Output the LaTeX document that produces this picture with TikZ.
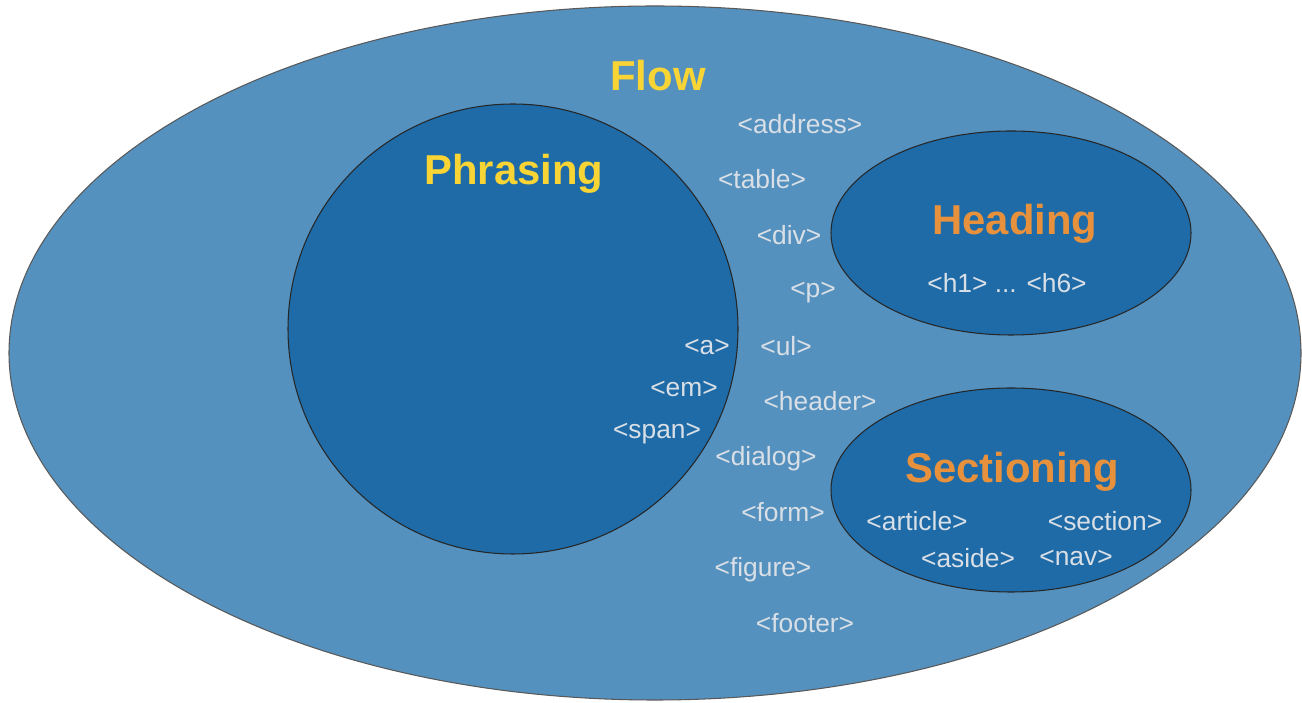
\documentclass[tikz,border=0pt]{standalone}
\usepackage{fontspec}
\setmainfont{Liberation Sans}
\usepackage{tikz}
\usepackage{xcolor}
\usetikzlibrary{shapes.geometric}
\definecolor{flowblue}{HTML}{5591BE}
\definecolor{innerblue}{HTML}{1E6BA7}
\definecolor{tagtext}{HTML}{D9DFE6}
\definecolor{flowyellow}{HTML}{F9D435}
\definecolor{catorange}{HTML}{E8913D}
\tikzset{tag/.style={text=tagtext,font=\fontsize{15}{18}\selectfont,inner sep=0pt},
	title/.style={font=\fontsize{23.8}{28}\selectfont\bfseries,inner sep=0pt},
	area/.style={draw=black!85,fill=innerblue,line width=0.6pt}}

\begin{document}
\begin{tikzpicture}
		\useasboundingbox (0,0) rectangle (26.04,14.06);
		\begin{scope}
			\clip (0,0) rectangle (26.04,14.06);
			\draw[draw=black!65,fill=flowblue,line width=0.6pt] (13.10,7.00) ellipse [x radius=12.92,y radius=6.94];
		\end{scope}
		\draw[area] (10.26,7.48) circle [radius=4.50];
		\draw[area] (20.22,9.40) ellipse [x radius=3.60,y radius=2.04];
		\draw[area] (20.22,4.26) ellipse [x radius=3.60,y radius=2.04];
		\begin{scope}[every node/.style={title}]
			\node[text=flowyellow] (Flow) at (13.16,12.54) {Flow};
			\node[text=flowyellow] (Phrasing) at (10.28,10.58) {Phrasing};
			\node[text=catorange] (Heading) at (20.30,9.58) {Heading};
			\node[text=catorange] (Sectioning) at (20.24,4.62) {Sectioning};
		\end{scope}
		\begin{scope}[every node/.style={tag}]
			\node (hx) at (20.14,8.40) {<h1> ... <h6>};
			\node (article) at (18.34,3.64) {<article>};
			\node (section) at (22.10,3.64) {<section>};
			\node (aside) at (19.36,2.90) {<aside>};
			\node (nav) at (21.52,2.90) {<nav>};
			\node (a) at (14.14,7.12) {<a>};
			\node (em) at (13.68,6.28) {<em>};
			\node (span) at (13.14,5.38) {<span>};
			\node (address) at (16.00,11.58) {<address>};
			\node (table) at (15.24,10.48) {<table>};
			\node (div) at (15.78,9.36) {<div>};
			\node (p) at (16.26,8.20) {<p>};
			\node (ul) at (15.72,7.14) {<ul>};
			\node (header) at (16.40,6.04) {<header>};
			\node (dialog) at (15.32,4.88) {<dialog>};
			\node (form) at (15.66,3.82) {<form>};
			\node (figure) at (15.26,2.66) {<figure>};
			\node (footer) at (16.10,1.60) {<footer>};
		\end{scope}
	\end{tikzpicture}
\end{document}
